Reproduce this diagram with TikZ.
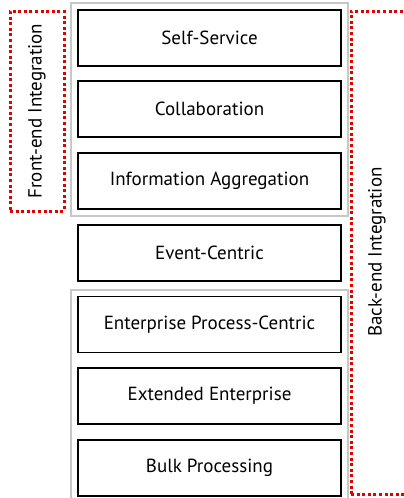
\documentclass[tikz,border=0pt]{standalone}
\usepackage{fontspec}
\setmainfont{PT Sans}
\usetikzlibrary{fit}
\tikzset{
  layer/.style={draw, line width=1.6pt, minimum width=263pt, minimum height=56pt, font=\fontsize{19}{22}\selectfont},
  group/.style={draw=black!22, line width=1.8pt, inner sep=6pt},
  span/.style={draw=red!90!black, line width=3pt, dash pattern=on 3pt off 2.6pt},
  spanlabel/.style={rotate=90, font=\fontsize{19}{22}\selectfont}
}
\begin{document}
\begin{tikzpicture}[x=1pt, y=-1pt]
\useasboundingbox (0,0) rectangle (404,498);
\node[layer] (self) at (209.5,38){Self-Service};
\node[layer] (collab) at (209.5,109){Collaboration};
\node[layer] (info) at (209.5,181){Information Aggregation};
\node[layer] (event) at (209.5,253){Event-Centric};
\node[layer] (proc) at (209.5,324.5){Enterprise Process-Centric};
\node[layer] (ext) at (209.5,396){Extended Enterprise};
\node[layer] (bulk) at (209.5,468){Bulk Processing};
\node[group, fit=(self)(info)] (front) {};
\node[group, fit=(proc)(bulk)] (back) {};
\node[span, minimum width=54pt, minimum height=200pt] (fspan) at (37,111){};
\node[span, minimum width=70pt, minimum height=483pt] (bspan) at (386,252.5){};
\node[spanlabel] (flabel) at (fspan.center){Front-end Integration};
\node[spanlabel] (blabel) at (377,252){Back-end Integration};
\end{tikzpicture}
\end{document}
